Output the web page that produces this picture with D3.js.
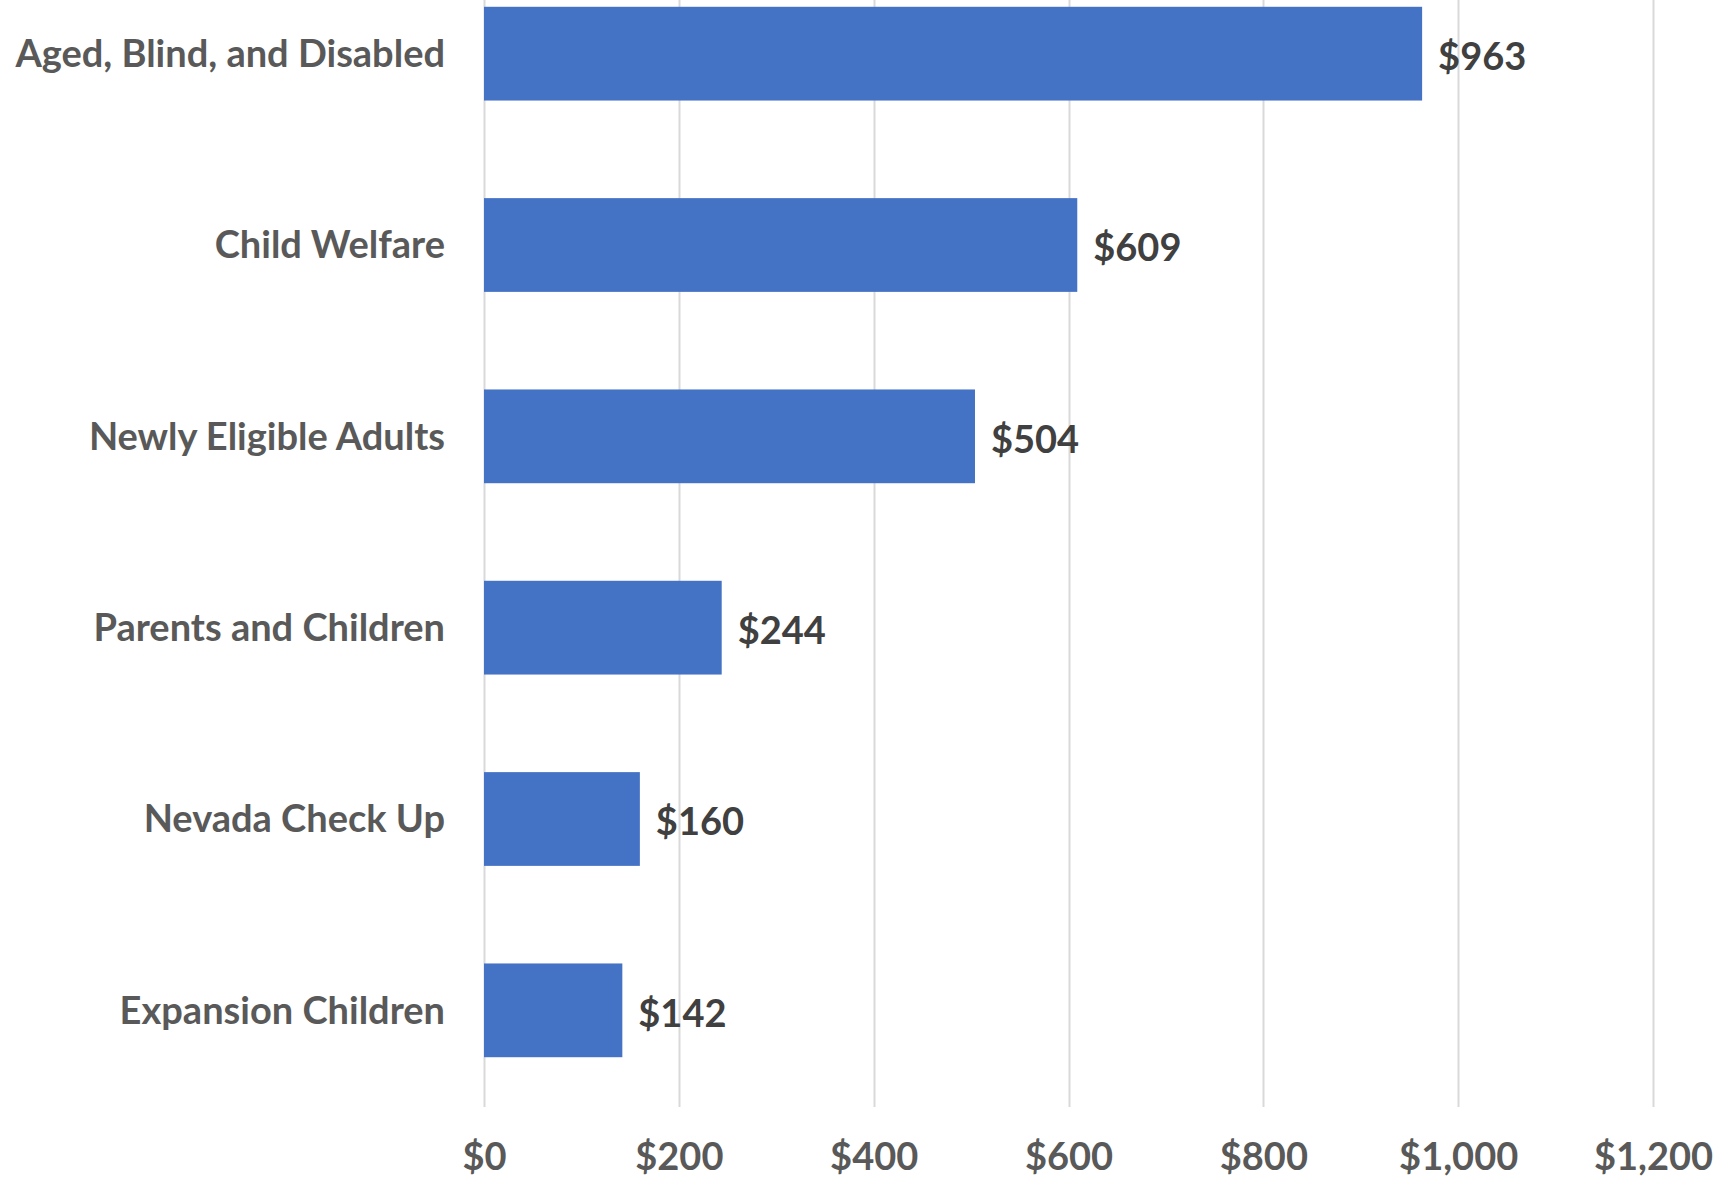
<!DOCTYPE html>
<html>
<head>
<meta charset="utf-8">
<script src="https://cdn.jsdelivr.net/npm/d3@7"></script>
<style>
  html, body { margin: 0; padding: 0; background: #fff; }
  svg { display: block; }
  text { font-family: Lato, "Open Sans", sans-serif; font-weight: 700; }
</style>
</head>
<body>
<svg id="chart" width="1728" height="1180"></svg>
<script>
const categories = ["Aged, Blind, and Disabled", "Child Welfare", "Newly Eligible Adults", "Parents and Children", "Nevada Check Up", "Expansion Children"];
const values = [963, 609, 504, 244, 160, 142];
const tickValues = [0, 200, 400, 600, 800, 1000, 1200];

const W = 1728, H = 1180;
const svg = d3.select("#chart");

const x = d3.scaleLinear().domain([0, 1200]).range([484, 1653]);
const y = d3.scaleBand().domain(categories).range([-42, 1106]).paddingInner(0.51).paddingOuter(0.255);

const fmt = v => "$" + d3.format(",")(v);

// gridlines
svg.append("g").selectAll("line").data(tickValues).join("line")
  .attr("x1", d => Math.round(x(d)) + 0.5).attr("x2", d => Math.round(x(d)) + 0.5)
  .attr("y1", 0).attr("y2", 1107)
  .attr("stroke", "#d9d9d9").attr("stroke-width", 2);

// x axis labels
const xAxis = d3.axisBottom(x).tickValues(tickValues).tickFormat(fmt).tickSize(0).tickPadding(0);
const gx = svg.append("g").attr("transform", "translate(0,1157)").call(xAxis);
gx.select(".domain").remove();
gx.selectAll("text").attr("fill", "#595959").attr("font-size", 38).attr("dy", "0.35em")
  .attr("font-family", "Lato").attr("font-weight", 700);

// bars
svg.append("g").selectAll("rect").data(categories).join("rect")
  .attr("x", x(0)).attr("y", d => y(d))
  .attr("width", (d, i) => x(values[i]) - x(0)).attr("height", y.bandwidth())
  .attr("fill", "#4472C4");

// category labels
const yAxis = d3.axisLeft(y).tickSize(0).tickPadding(39);
const gy = svg.append("g").attr("transform", `translate(${x(0)},0)`).call(yAxis);
gy.select(".domain").remove();
gy.selectAll("text").attr("fill", "#595959").attr("font-size", 38).attr("dy", "0.35em")
  .attr("font-family", "Lato").attr("font-weight", 700);

// value labels
svg.append("g").selectAll("text").data(categories).join("text")
  .attr("x", (d, i) => x(values[i]) + 16)
  .attr("y", d => y(d) + y.bandwidth() / 2 + 3)
  .attr("dy", "0.35em")
  .attr("fill", "#404040").attr("font-size", 38)
  .text((d, i) => fmt(values[i]));
</script>
</body>
</html>
